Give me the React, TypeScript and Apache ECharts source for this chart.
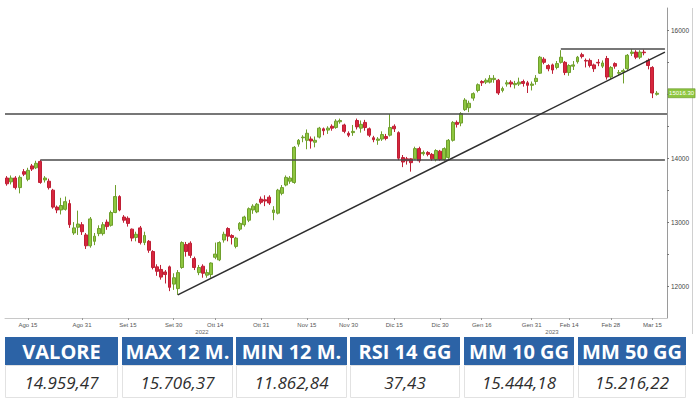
import React, { useEffect, useRef } from "react";
import * as echarts from "echarts";

// Daily candles [open, close, low, high] (Aug 2022 - Mar 2023)
const ohlc: number[][] = [
  [13690, 13600, 13570, 13720], [13630, 13690, 13590, 13730], [13690, 13540, 13510, 13720], [13540, 13700, 13450, 13730],
  [13790, 13750, 13720, 13830], [13670, 13810, 13640, 13850], [13880, 13830, 13800, 13910], [13850, 13920, 13830, 13960],
  [13950, 13620, 13600, 13975], [13660, 13690, 13620, 13720], [13640, 13540, 13510, 13680], [13500, 13235, 13210, 13520],
  [13235, 13190, 13140, 13260], [13190, 13260, 13120, 13380], [13200, 13320, 13180, 13400], [13290, 12960, 12910, 13350],
  [12830, 12910, 12800, 13000], [12920, 12970, 12800, 13180], [12960, 12850, 12800, 13000], [12800, 12630, 12580, 12830],
  [12630, 13050, 12600, 13080], [12700, 12780, 12640, 12830], [12820, 12900, 12780, 12950], [12820, 12960, 12790, 13000],
  [13000, 12930, 12880, 13040], [12950, 13150, 12930, 13180], [13150, 13400, 13140, 13580], [13400, 13190, 13170, 13420],
  [13080, 13030, 12990, 13110], [13060, 12980, 12930, 13090], [12890, 12750, 12700, 12900], [12760, 12810, 12700, 12850],
  [12910, 12680, 12650, 12940], [12680, 12790, 12640, 12850], [12700, 12560, 12520, 12720], [12540, 12290, 12260, 12560],
  [12300, 12230, 12160, 12340], [12260, 12140, 12100, 12330], [12220, 12180, 12040, 12250], [12300, 11980, 11920, 12320],
  [12030, 12130, 11940, 12200], [11960, 12210, 11862.84, 12250], [12290, 12680, 12270, 12700], [12650, 12540, 12460, 12690],
  [12670, 12480, 12440, 12700], [12430, 12290, 12250, 12460], [12210, 12290, 12170, 12330], [12310, 12200, 12130, 12340],
  [12170, 12210, 12130, 12260], [12180, 12360, 12130, 12370], [12450, 12500, 12420, 12680], [12410, 12680, 12390, 12700],
  [12720, 12810, 12680, 12850], [12900, 12780, 12700, 12920], [12790, 12760, 12650, 12810], [12620, 12750, 12590, 12770],
  [12890, 12980, 12860, 13000], [12960, 13080, 12930, 13100], [13030, 13210, 13000, 13230], [13190, 13250, 13130, 13280],
  [13160, 13280, 13140, 13300], [13360, 13310, 13280, 13400], [13350, 13330, 13250, 13420], [13390, 13300, 13270, 13420],
  [13150, 13190, 13030, 13250], [13140, 13500, 13120, 13520], [13450, 13540, 13420, 13580], [13580, 13700, 13560, 13730],
  [13640, 13690, 13600, 13720], [13620, 14170, 13600, 14190], [14220, 14280, 14180, 14300], [14320, 14330, 14250, 14360],
  [14280, 14390, 14140, 14450], [14300, 14270, 14150, 14340], [14250, 14280, 14170, 14340], [14330, 14470, 14310, 14490],
  [14460, 14430, 14360, 14480], [14440, 14470, 14380, 14500], [14500, 14470, 14430, 14530], [14480, 14580, 14460, 14610],
  [14570, 14590, 14540, 14620], [14520, 14420, 14390, 14540], [14390, 14360, 14330, 14420], [14400, 14420, 14350, 14520],
  [14590, 14490, 14450, 14620], [14470, 14530, 14400, 14590], [14560, 14480, 14430, 14600], [14460, 14360, 14330, 14480],
  [14320, 14290, 14250, 14350], [14280, 14300, 14210, 14330], [14300, 14370, 14270, 14420], [14340, 14310, 14280, 14380],
  [14360, 14480, 14340, 14690], [14500, 14460, 14410, 14530], [14400, 14000, 13970, 14420], [14010, 13940, 13860, 14050],
  [13990, 13960, 13900, 14020], [13990, 13930, 13790, 14000], [13990, 14150, 13980, 14180], [14150, 13960, 13930, 14180],
  [14070, 14090, 14040, 14120], [14090, 14060, 14030, 14110], [14060, 13990, 13960, 14080], [13980, 14120, 13950, 14140],
  [14110, 13980, 13960, 14130], [13980, 14150, 13960, 14170], [14010, 14280, 13990, 14300], [14280, 14560, 14260, 14580],
  [14560, 14530, 14480, 14590], [14550, 14700, 14500, 14720], [14760, 14910, 14740, 14940], [14790, 14860, 14720, 14900],
  [14940, 15010, 14900, 15030], [15060, 15150, 15030, 15170], [15200, 15180, 15130, 15220], [15190, 15220, 15160, 15250],
  [15190, 15250, 15170, 15300], [15230, 15250, 15180, 15300], [15220, 15020, 14990, 15240], [15060, 15090, 15030, 15120],
  [15160, 15180, 15120, 15220], [15190, 15160, 15110, 15220], [15150, 15170, 15090, 15210], [15160, 15190, 15130, 15260],
  [15200, 15170, 15120, 15230], [15180, 15140, 15020, 15210], [15140, 15160, 15060, 15200], [15200, 15250, 15150, 15300],
  [15330, 15580, 15320, 15600], [15550, 15500, 15470, 15580], [15450, 15400, 15360, 15470], [15460, 15380, 15320, 15480],
  [15420, 15480, 15390, 15520], [15500, 15580, 15480, 15690], [15500, 15340, 15300, 15520], [15340, 15450, 15290, 15470],
  [15440, 15460, 15380, 15520], [15510, 15580, 15480, 15600], [15620, 15590, 15560, 15650], [15530, 15520, 15420, 15560],
  [15530, 15450, 15420, 15560], [15460, 15400, 15350, 15480], [15500, 15490, 15440, 15550], [15440, 15490, 15410, 15530],
  [15560, 15270, 15230, 15600], [15270, 15420, 15240, 15440], [15480, 15440, 15400, 15500], [15330, 15340, 15290, 15380],
  [15350, 15370, 15170, 15400], [15400, 15610, 15380, 15630], [15640, 15660, 15600, 15706.37], [15660, 15580, 15550, 15690],
  [15580, 15660, 15550, 15690], [15660, 15650, 15610, 15700], [15530, 15450, 15390, 15560], [15420, 15020, 14940, 15440],
  [15000, 15016.3, 14980, 15050],
];

// x axis tick labels (category index -> text)
const tickIdx = [5, 18, 29, 40, 50, 61, 72, 82, 93, 104, 114, 126, 135, 145, 155];
const tickText = ["Ago 15", "Ago 31", "Set 15", "Set 30", "Ott 14", "Ott 31", "Nov 15", "Nov 30",
  "Dic 15", "Dic 30", "Gen 16", "Gen 31", "Feb 14", "Feb 28", "Mar 15"];
const yearLabels = ["2022", "2023"];
// y axis labels shown (15000 is hidden behind the price tag in the reference)
const yLabels = [12000, 13000, 14000, 16000];

// annotation lines (category index, value)
const resistanceLevel = 14690;
const supportStart = [8, 13980];
const maxStart = [133, 15706.37];
const trendStart = [41, 11862.84];
const trendEnd = [158, 15660];
const lastPrice = 15016.3;

// table
const headers = ["VALORE", "MAX 12 M.", "MIN 12 M.", "RSI 14 GG", "MM 10 GG", "MM 50 GG"];
const values = ["14.959,47", "15.706,37", "11.862,84", "37,43", "15.444,18", "15.216,22"];

const EXTRA = 2;
const categories = Array.from({ length: ohlc.length + EXTRA }, (_, i) => String(i));
const lastIdx = categories.length - 1;

export default function App() {
  const ref = useRef<HTMLDivElement>(null);
  useEffect(() => {
    if (!ref.current) return;
    const chart = echarts.init(ref.current, undefined, { renderer: "svg" });

    const colX = [5, 122, 236, 350, 464, 578];
    const colW = [113, 111, 111, 110, 110, 108];
    const table: any[] = [];
    headers.forEach((h, i) => {
      table.push({
        type: "rect", shape: { x: colX[i], y: 337, width: colW[i], height: 28 },
        style: { fill: "#2c63a6" },
      });
      table.push({
        type: "text", x: colX[i] + colW[i] / 2, y: 351,
        style: { text: h, fill: "#ffffff", font: "bold 20px 'Open Sans'", align: "center", verticalAlign: "middle" },
      });
      table.push({
        type: "rect", shape: { x: colX[i] + 0.5, y: 365.5, width: colW[i] - 1, height: 32 },
        style: { fill: "#ffffff", stroke: "#e2e2e2", lineWidth: 1 },
      });
      table.push({
        type: "text", x: colX[i] + colW[i] / 2, y: 382,
        style: { text: values[i], fill: "#2e2e2e", font: "italic 17px 'Open Sans'", align: "center", verticalAlign: "middle" },
      });
    });

    const lineStyle = { color: "#4a4a4a", width: 1.6, type: "solid" as const };

    chart.setOption({
      animation: false,
      backgroundColor: "#ffffff",
      grid: { left: 5, right: 33, top: 8, bottom: 82 },
      xAxis: {
        type: "category",
        data: categories,
        boundaryGap: true,
        axisLine: { show: true, lineStyle: { color: "#c8c8c8" } },
        axisTick: {
          show: true, alignWithLabel: true, length: 2,
          interval: (i: number) => tickIdx.includes(i),
          lineStyle: { color: "#999" },
        },
        axisLabel: {
          interval: (i: number) => tickIdx.includes(i),
          formatter: (_v: string, i: number) => {
            const k = tickIdx.indexOf(i);
            return k >= 0 ? tickText[k] : "";
          },
          fontSize: 6, color: "#555", margin: 4, fontFamily: "Liberation Sans",
        },
        splitLine: { show: false },
      },
      yAxis: {
        type: "value",
        position: "right",
        min: 11500,
        max: 16350,
        interval: 500,
        splitLine: { show: false },
        axisLine: { show: true, lineStyle: { color: "#9a9a9a" } },
        axisTick: { show: true, length: 2, lineStyle: { color: "#777" } },
        axisLabel: {
          fontSize: 6.5, color: "#444", margin: 4, fontFamily: "Liberation Sans",
          showMinLabel: false, showMaxLabel: false,
          formatter: (v: number) => (yLabels.includes(v) ? String(v) : ""),
        },
      },
      graphic: [
        { type: "line", shape: { x1: 692.5, y1: 8, x2: 692.5, y2: 334 }, style: { stroke: "#d0d0d0", lineWidth: 1 } },
        { type: "text", x: 202, y: 332, style: { text: yearLabels[0], fill: "#666", font: "6px 'Liberation Sans'", align: "center", verticalAlign: "middle" } },
        { type: "text", x: 552, y: 332, style: { text: yearLabels[1], fill: "#666", font: "6px 'Liberation Sans'", align: "center", verticalAlign: "middle" } },
        ...table,
      ],
      series: [
        {
          type: "candlestick",
          data: ohlc,
          barWidth: 3.4,
          itemStyle: {
            color: "#8dc63f",
            color0: "#d7263d",
            borderColor: "#6f9f2c",
            borderColor0: "#bf1f35",
            borderWidth: 1,
          },
          markLine: {
            silent: true,
            symbol: "none",
            label: { show: false },
            lineStyle,
            data: [
              { yAxis: resistanceLevel },
              [{ coord: [String(supportStart[0]), supportStart[1]] }, { coord: [String(lastIdx), supportStart[1]] }],
              [{ coord: [String(maxStart[0]), maxStart[1]] }, { coord: [String(lastIdx), maxStart[1]] }],
              [{ coord: [String(trendStart[0]), trendStart[1]] }, { coord: [String(trendEnd[0]), trendEnd[1]], lineStyle: { color: "#2e2e2e", width: 1.5 } }],
            ],
          },
          markPoint: {
            silent: true,
            symbol: "rect",
            symbolSize: [27, 9],
            symbolOffset: [25, 0],
            itemStyle: { color: "#8dc63f", borderColor: "#5f8f22", borderWidth: 0.5 },
            label: {
              show: true, position: "inside", fontSize: 6, color: "#ffffff",
              fontFamily: "Liberation Sans",
              formatter: () => lastPrice.toFixed(2),
            },
            data: [{ coord: [String(ohlc.length - 1), lastPrice] }],
            z: 10,
          },
        },
      ],
    });
    return () => chart.dispose();
  }, []);
  return (
    <div
      ref={ref}
      style={{ position: "absolute", left: 0, top: 0, width: 700, height: 400, background: "#fff" }}
    />
  );
}
